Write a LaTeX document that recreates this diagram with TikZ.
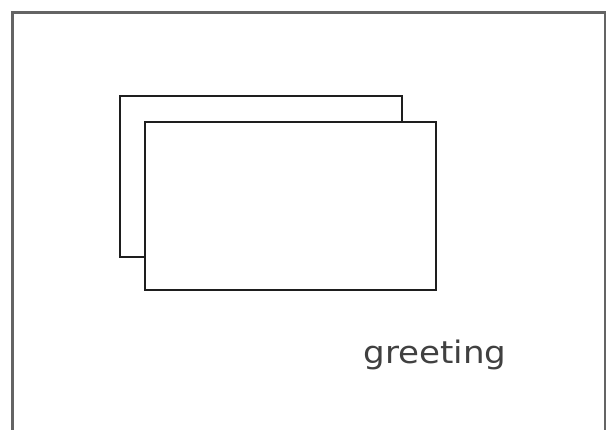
\documentclass[tikz,border=0pt]{standalone}
\usepackage{fontspec}
\newfontfamily\handfont{DejaVu Sans}
\usetikzlibrary{positioning}
\definecolor{frameGray}{RGB}{100,100,100}
\definecolor{inkDark}{RGB}{30,30,30}

\begin{document}
\begin{tikzpicture}[x=1pt,y=-1pt,
        card/.style={draw=inkDark,line width=1.6pt,inner sep=0pt},
        label/.style={font=\handfont\fontsize{31}{31}\selectfont,text=inkDark!85,inner sep=0pt}
      ]
        \useasboundingbox (0,0) rectangle (614,429);
        \draw[frameGray,line width=2.4pt] (12.5,440) -- (12.5,12.5) -- (605,12.5) -- (605,440);
        \node[card,minimum width=282pt,minimum height=161pt] (back) at (261,176.5) {};
        \node[card,fill=white,minimum width=291pt,minimum height=168pt] (front) at (290.5,206) {};
        \node[label,anchor=base,xscale=1.1] (greet) at (435,363) {greeting};
      \end{tikzpicture}
\end{document}
